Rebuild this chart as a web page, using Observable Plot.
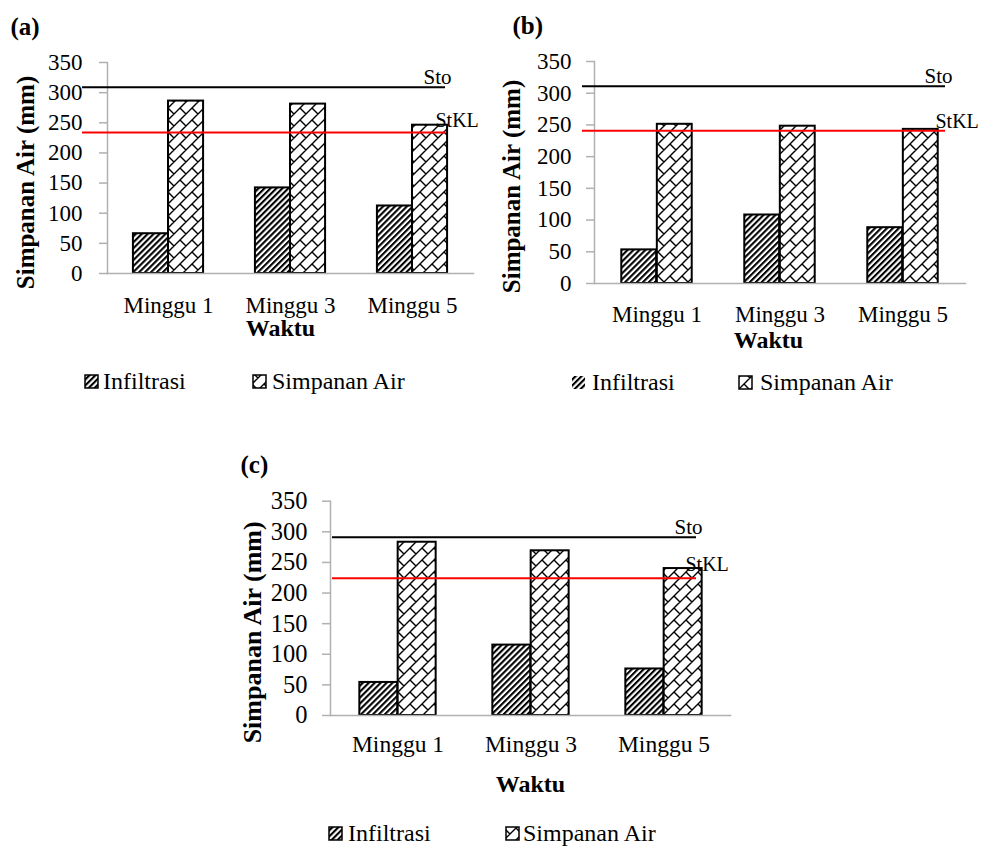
<!DOCTYPE html>
<html><head><meta charset="utf-8">
<script src="https://cdn.jsdelivr.net/npm/d3@7"></script>
<script src="https://cdn.jsdelivr.net/npm/@observablehq/plot@0.6"></script>
<style>
body{margin:0;background:#fff;}
#root{position:relative;width:981px;height:846px;overflow:hidden;background:#fff;}
.panel{position:absolute;}
#overlay{position:absolute;left:0;top:0;pointer-events:none;}
</style></head><body><div id="root"></div>
<script>
// ---- data ----
const weeks = ["Minggu 1", "Minggu 3", "Minggu 5"];
const seriesNames = ["Infiltrasi", "Simpanan Air"];
const infA = [66, 142, 112];
const simA = [286, 281, 246];
const infB = [53, 108, 88];
const simB = [251, 248, 243];
const infC = [54, 115, 76];
const simC = [283, 269, 240];
const stoVals = [309, 311, 291];
const stklVals = [234, 241, 224];
const yTicks = [0, 50, 100, 150, 200, 250, 300, 350];
const panelLabels = ["(a)", "(b)", "(c)"];
const refLabels = ["Sto", "StKL"];
const yTitle = "Simpanan Air (mm)";
const xTitle = "Waktu";

const FONT = "'Liberation Serif', 'Times New Roman', serif";
const gray = "#b0b0b0";

const root = document.getElementById("root");

// overlay with pattern defs and legends
const overlay = d3.select(root).append("svg").attr("id", "overlay")
  .attr("width", 981).attr("height", 846);
const defs = overlay.append("defs");
const pInf = defs.append("pattern").attr("id", "pInf").attr("patternUnits", "userSpaceOnUse")
  .attr("width", 4.2).attr("height", 4.2).attr("patternTransform", "rotate(45)");
pInf.append("rect").attr("width", 4.2).attr("height", 4.2).attr("fill", "#fff");
pInf.append("rect").attr("width", 2.1).attr("height", 4.2).attr("fill", "#000");
const pSim = defs.append("pattern").attr("id", "pSim").attr("patternUnits", "userSpaceOnUse")
  .attr("width", 12).attr("height", 12);
pSim.append("rect").attr("width", 12).attr("height", 12).attr("fill", "#fff");
pSim.append("path")
  .attr("d", "M-1,13L13,-1 M-1,1L1,-1 M11,13L13,11 M0,0L6,6 M12,12L13,13")
  .attr("stroke", "#000").attr("stroke-width", 1.4).attr("fill", "none");

const panels = [
  {left: 0, top: 0, width: 490, height: 420, ml: 107, mr: 17, mt: 62, mb: 147,
   inf: infA, sim: simA, sto: stoVals[0], stkl: stklVals[0], label: panelLabels[0],
   fs: 23, xfs: 23, ruleL: -25, ruleR: 28, stoDx: -22, stoDy: -10, stklDx: -38, stklDy: -11.5,
   tickPad: 17, xPad: 23, labDx: -97, labDy: -36, yLabDx: -82, yLabDy: 14.5, yLabFs: 25,
   wDx: -10, wDy: 55.3,
   legend: {s1: 85, t1: 103, s2: 253, t2: 272, base: 389, stroke1: true}},
  {left: 490, top: 0, width: 491, height: 420, ml: 104, mr: 16, mt: 61, mb: 137,
   inf: infB, sim: simB, sto: stoVals[1], stkl: stklVals[1], label: panelLabels[1],
   fs: 23, xfs: 23, ruleL: -12, ruleR: 20, stoDx: -13, stoDy: -9.7, stklDx: -30, stklDy: -9.4,
   tickPad: 15, xPad: 22, labDx: -82, labDy: -36, yLabDx: -83, yLabDy: 14, yLabFs: 25,
   wDx: -11.5, wDy: 57.3,
   legend: {s1: 572, t1: 592, s2: 739, t2: 760, base: 390, stroke1: false}},
  {left: 230, top: 440, width: 520, height: 406, ml: 100, mr: 20, mt: 60.7, mb: 131,
   inf: infC, sim: simC, sto: stoVals[2], stkl: stklVals[2], label: panelLabels[2],
   fs: 24.5, xfs: 23.5, ruleL: 2, ruleR: 34, stoDx: -28, stoDy: -10, stklDx: -45, stklDy: -14,
   tickPad: 15, xPad: 20, labDx: -90, labDy: -36.7, yLabDx: -78, yLabDy: 24, yLabFs: 26,
   wDx: 0, wDy: 69,
   legend: {s1: 329, t1: 348, s2: 506, t2: 523, base: 841, stroke1: true}}
];

for (const p of panels) {
  const data = weeks.flatMap((w, i) => [
    {week: w, series: seriesNames[0], value: p.inf[i]},
    {week: w, series: seriesNames[1], value: p.sim[i]}
  ]);
  const step = (p.width - p.ml - p.mr) / weeks.length;
  const outer = 0.2125 * step, half = 0.5 * step;
  const chart = Plot.plot({
    width: p.width, height: p.height,
    marginLeft: p.ml, marginRight: p.mr, marginTop: p.mt, marginBottom: p.mb,
    style: {fontFamily: FONT, color: "#000", background: "transparent", overflow: "visible"},
    x: {domain: weeks, padding: 0, axis: null},
    y: {domain: [0, 350], axis: null},
    marks: [
      Plot.barY(data.filter(d => d.series === seriesNames[0]), {
        x: "week", y: "value", fill: "url(#pInf)", stroke: "#000", strokeWidth: 2,
        insetLeft: outer, insetRight: half
      }),
      Plot.barY(data.filter(d => d.series === seriesNames[1]), {
        x: "week", y: "value", fill: "url(#pSim)", stroke: "#000", strokeWidth: 2,
        insetLeft: half, insetRight: outer
      }),
      Plot.frame({anchor: "bottom", stroke: gray, strokeWidth: 1.5}),
      Plot.frame({anchor: "left", stroke: gray, strokeWidth: 1.5}),
      Plot.axisY({ticks: yTicks, tickSize: 8, tickPadding: p.tickPad, stroke: gray, strokeWidth: 1.5,
        label: null, fontSize: p.fs}),
      Plot.axisX({tickSize: 0, tickPadding: p.xPad, label: null, fontSize: p.xfs}),
      Plot.ruleY([p.sto], {stroke: "#000", strokeWidth: 2, insetLeft: p.ruleL, insetRight: p.ruleR}),
      Plot.ruleY([p.stkl], {stroke: "#ff0000", strokeWidth: 2, insetLeft: p.ruleL, insetRight: p.ruleR}),
      Plot.text([p.sto], {y: d => d, text: () => refLabels[0], frameAnchor: "right", textAnchor: "end",
        lineAnchor: "middle", dx: p.stoDx, dy: p.stoDy, fontSize: 21}),
      Plot.text([p.stkl], {y: d => d, text: () => refLabels[1], frameAnchor: "right", textAnchor: "start",
        lineAnchor: "middle", dx: p.stklDx, dy: p.stklDy, fontSize: 20}),
      Plot.text([p.label], {frameAnchor: "top-left", textAnchor: "start", lineAnchor: "middle",
        dx: p.labDx, dy: p.labDy, fontWeight: "bold", fontSize: 25}),
      Plot.text([yTitle], {frameAnchor: "left", rotate: -90, textAnchor: "middle", lineAnchor: "middle",
        dx: p.yLabDx, dy: p.yLabDy, fontWeight: "bold", fontSize: p.yLabFs}),
      Plot.text([xTitle], {frameAnchor: "bottom", textAnchor: "middle", lineAnchor: "middle",
        dx: p.wDx, dy: p.wDy, fontWeight: "bold", fontSize: 24})
    ]
  });
  chart.classList.add("panel");
  chart.style.left = p.left + "px";
  chart.style.top = p.top + "px";
  root.insertBefore(chart, overlay.node());

  // legend
  const L = p.legend;
  const g = overlay.append("g").attr("font-family", FONT).attr("font-size", 24);
  g.append("rect").attr("x", L.s1).attr("y", L.base - 14).attr("width", 13).attr("height", 13)
    .attr("fill", "url(#pInf)").attr("stroke", L.stroke1 ? "#000" : "none").attr("stroke-width", 1.5);
  g.append("text").attr("x", L.t1).attr("y", L.base).text(seriesNames[0]);
  g.append("rect").attr("x", L.s2).attr("y", L.base - 14).attr("width", 13).attr("height", 13)
    .attr("fill", "url(#pSim)").attr("stroke", "#000").attr("stroke-width", 1.5);
  g.append("text").attr("x", L.t2).attr("y", L.base).text(seriesNames[1]);
}
</script></body></html>
